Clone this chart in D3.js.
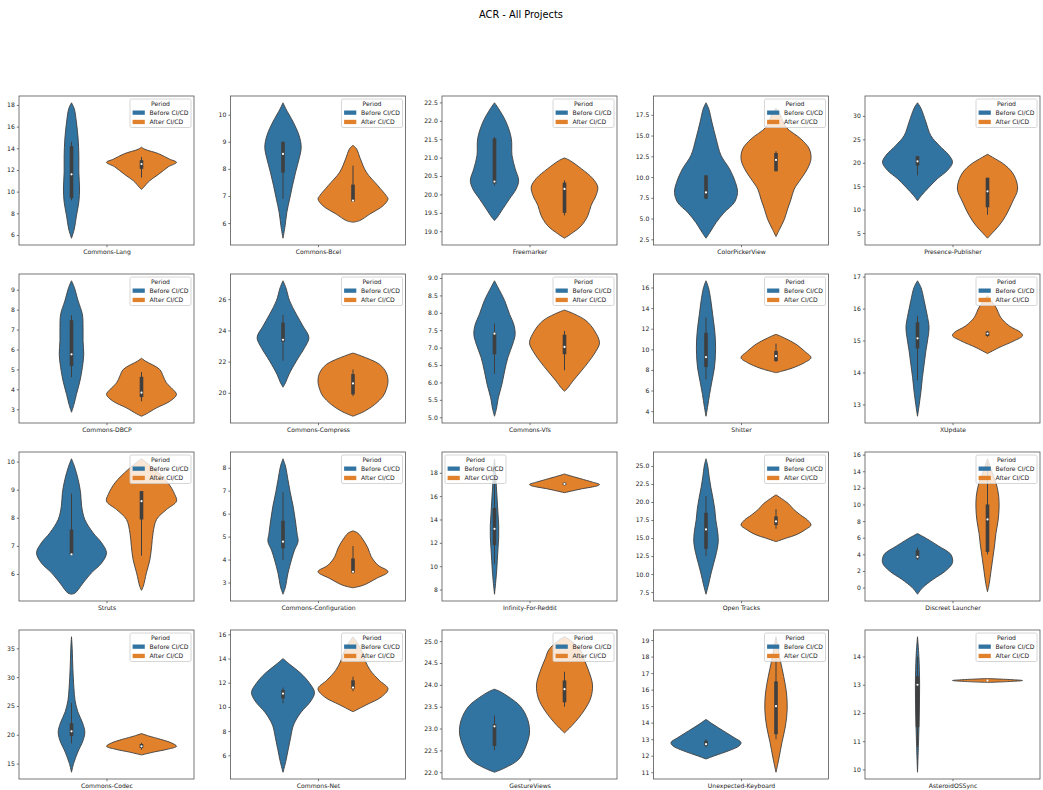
<!DOCTYPE html>
<html lang="en">
<head>
<meta charset="UTF-8">
<title>ACR - All Projects</title>
<script src="https://d3js.org/d3.v7.min.js"></script>
<style>
  body { margin: 0; background: #fff; font-family: "DejaVu Sans", sans-serif; }
  svg { display: block; }
</style>
</head>
<body>
<div id="chart"></div>
<script>
// one entry per project, in reading order (4 rows x 5 columns)
const projects = [
  "Commons-Lang", "Commons-Bcel", "Freemarker", "ColorPickerView", "Presence-Publisher",
  "Commons-DBCP", "Commons-Compress", "Commons-Vfs", "Shitter", "XUpdate",
  "Struts", "Commons-Configuration", "Infinity-For-Reddit", "Open Tracks", "Discreet Launcher",
  "Commons-Codec", "Commons-Net", "GestureViews", "Unexpected-Keyboard", "AsteroidOSSync"
];

const periods = ["Before CI/CD", "After CI/CD"];

const yTicks = [
  [6, 8, 10, 12, 14, 16, 18], [6, 7, 8, 9, 10], [19, 19.5, 20, 20.5, 21, 21.5, 22, 22.5],
  [2.5, 5, 7.5, 10, 12.5, 15, 17.5], [5, 10, 15, 20, 25, 30],
  [3, 4, 5, 6, 7, 8, 9], [20, 22, 24, 26], [5, 5.5, 6, 6.5, 7, 7.5, 8, 8.5, 9],
  [4, 6, 8, 10, 12, 14, 16], [13, 14, 15, 16, 17],
  [6, 7, 8, 9, 10], [3, 4, 5, 6, 7, 8], [8, 10, 12, 14, 16, 18],
  [7.5, 10, 12.5, 15, 17.5, 20, 22.5, 25], [0, 2, 4, 6, 8, 10, 12, 14, 16],
  [15, 20, 25, 30, 35], [6, 8, 10, 12, 14, 16], [22, 22.5, 23, 23.5, 24, 24.5, 25],
  [11, 12, 13, 14, 15, 16, 17, 18, 19], [10, 11, 12, 13, 14]
];

// violin outlines: [value, relative half-width]
const beforeShape = [
  [[5.7,0],[6.55,0.08],[7.75,0.14],[9.04,0.21],[10.24,0.23],[11.81,0.21],[13.32,0.21],[14.86,0.19],[16.43,0.14],[17.63,0.08],[18.2,0]],
  [[5.44,0],[5.9,0.06],[6.4,0.11],[6.89,0.19],[7.38,0.27],[7.88,0.36],[8.37,0.46],[8.8,0.52],[9.23,0.46],[9.73,0.29],[10.22,0.08],[10.44,0]],
  [[19.29,0],[19.38,0.08],[19.61,0.24],[19.88,0.43],[20.15,0.62],[20.38,0.69],[20.7,0.59],[21.06,0.5],[21.52,0.48],[21.97,0.33],[22.34,0.11],[22.49,0]],
  [[2.63,0],[3.32,0.11],[4.52,0.29],[5.73,0.52],[6.94,0.81],[8.15,0.9],[9.36,0.84],[11.0,0.67],[12.6,0.43],[14.6,0.29],[16.6,0.17],[18.2,0.08],[18.95,0]],
  [[11.9,0],[13.0,0.11],[14.8,0.33],[16.6,0.57],[18.4,0.86],[20.1,1.0],[21.6,0.9],[23.7,0.62],[25.8,0.38],[28.7,0.24],[31.6,0.1],[32.8,0]],
  [[2.85,0],[3.24,0.07],[3.74,0.14],[4.41,0.24],[5.09,0.31],[5.76,0.35],[6.43,0.33],[7.1,0.33],[7.77,0.31],[8.44,0.19],[9.12,0.08],[9.45,0]],
  [[20.36,0],[20.64,0.07],[21.18,0.17],[22.03,0.38],[22.9,0.62],[23.54,0.74],[24.28,0.57],[25.04,0.38],[25.89,0.19],[26.75,0.08],[27.18,0]],
  [[5.03,0],[5.22,0.05],[5.56,0.11],[5.94,0.21],[6.33,0.29],[6.71,0.38],[7.1,0.52],[7.38,0.59],[7.67,0.55],[7.96,0.43],[8.35,0.29],[8.73,0.1],[8.92,0]],
  [[3.51,0],[4.5,0.05],[5.6,0.1],[6.9,0.17],[8.2,0.24],[9.5,0.27],[10.8,0.27],[12.1,0.24],[13.4,0.19],[14.7,0.14],[16.0,0.07],[16.65,0]],
  [[12.63,0],[13.0,0.05],[13.42,0.1],[13.84,0.14],[14.26,0.19],[14.68,0.24],[15.09,0.3],[15.41,0.33],[15.83,0.27],[16.25,0.19],[16.66,0.1],[16.87,0]],
  [[5.28,0],[5.32,0.1],[5.44,0.19],[5.68,0.33],[6.04,0.57],[6.39,0.86],[6.75,1.0],[7.11,0.86],[7.46,0.62],[7.94,0.38],[8.41,0.29],[8.89,0.26],[9.36,0.19],[9.84,0.08],[10.1,0]],
  [[2.49,0],[2.81,0.07],[3.39,0.14],[3.98,0.24],[4.42,0.33],[4.78,0.43],[5.15,0.4],[5.73,0.35],[6.32,0.29],[6.9,0.21],[7.49,0.14],[8.07,0.07],[8.39,0]],
  [[7.6,0],[8.5,0.03],[9.5,0.06],[10.5,0.08],[11.5,0.1],[12.5,0.12],[13.5,0.12],[14.5,0.1],[15.5,0.08],[16.5,0.06],[17.5,0.04],[18.5,0.02],[19.2,0]],
  [[7.2,0],[8.5,0.07],[10,0.14],[11.5,0.22],[13,0.3],[14.5,0.35],[16,0.33],[17.5,0.28],[19,0.25],[20.5,0.2],[22,0.14],[23.5,0.09],[25,0.05],[26,0]],
  [[-0.8,0],[0,0.15],[1,0.45],[2,0.8],[3,1.0],[4,0.95],[5,0.6],[5.8,0.3],[6.5,0]],
  [[13.5,0],[15,0.06],[17,0.18],[19,0.33],[20.5,0.38],[22,0.32],[24,0.18],[26,0.1],[28,0.07],[30,0.05],[33,0.03],[35,0.02],[37,0]],
  [[4.6,0],[5.5,0.08],[6.5,0.15],[7.5,0.22],[8.5,0.3],[9.5,0.5],[10.5,0.8],[11.2,0.9],[12,0.75],[12.8,0.5],[13.5,0.2],[14,0]],
  [[22.0,0],[22.1,0.3],[22.3,0.7],[22.6,0.9],[22.9,1.0],[23.2,0.95],[23.5,0.75],[23.7,0.45],[23.85,0.15],[23.9,0]],
  [[11.8,0],[12.0,0.25],[12.3,0.65],[12.6,0.95],[12.8,1.0],[13.1,0.8],[13.5,0.5],[13.9,0.2],[14.2,0]],
  [[9.9,0],[11,0.03],[12,0.05],[13,0.06],[14,0.04],[14.7,0]]
];

const afterShape = [
  [[10.2,0],[10.4,0.06],[11.0,0.23],[11.6,0.49],[12.3,0.77],[12.7,1.0],[13.0,0.8],[13.5,0.49],[13.9,0.1],[14.1,0]],
  [[6.03,0],[6.09,0.19],[6.33,0.48],[6.64,0.86],[6.89,1.0],[7.01,0.95],[7.38,0.71],[7.88,0.38],[8.37,0.21],[8.74,0.1],[8.87,0]],
  [[18.81,0],[18.93,0.19],[19.15,0.48],[19.43,0.67],[19.7,0.76],[19.97,0.9],[20.2,0.95],[20.43,0.81],[20.7,0.48],[20.93,0.14],[20.99,0]],
  [[2.83,0],[3.7,0.1],[4.92,0.24],[6.13,0.33],[7.34,0.43],[8.55,0.52],[9.76,0.71],[11.0,0.9],[12.2,1.0],[13.4,0.95],[14.6,0.71],[16.0,0.29],[17.5,0.12],[18.3,0]],
  [[3.9,0],[4.8,0.11],[6.6,0.33],[8.7,0.52],[11.6,0.71],[14.4,0.86],[17.3,0.76],[19.4,0.52],[21.2,0.14],[21.8,0]],
  [[2.65,0],[2.77,0.14],[3.07,0.43],[3.4,0.81],[3.74,1.0],[3.99,0.9],[4.33,0.71],[4.66,0.62],[5.0,0.52],[5.42,0.11],[5.56,0]],
  [[18.5,0],[18.82,0.33],[19.25,0.62],[19.79,0.86],[20.21,0.95],[20.75,1.0],[21.29,0.95],[21.82,0.76],[22.36,0.24],[22.55,0]],
  [[5.75,0],[5.85,0.1],[6.04,0.24],[6.33,0.48],[6.62,0.71],[6.9,0.9],[7.14,1.0],[7.48,0.86],[7.77,0.62],[7.96,0.29],[8.08,0]],
  [[7.73,0],[7.9,0.19],[8.2,0.48],[8.7,0.81],[9.19,1.0],[9.84,0.81],[10.5,0.57],[11.1,0.24],[11.46,0]],
  [[14.59,0],[14.65,0.1],[14.78,0.33],[14.99,0.76],[15.15,1.0],[15.25,0.95],[15.46,0.62],[15.72,0.38],[16.04,0.24],[16.4,0]],
  [[5.42,0],[5.56,0.05],[6.04,0.14],[6.51,0.24],[6.99,0.29],[7.46,0.33],[7.94,0.43],[8.29,0.71],[8.59,1.0],[8.83,0.95],[9.24,0.76],[9.72,0.38],[10.1,0]],
  [[2.77,0],[2.88,0.29],[3.18,0.67],[3.47,1.0],[3.76,0.71],[4.13,0.52],[4.49,0.43],[4.86,0.29],[5.15,0.14],[5.25,0]],
  [[16.3,0],[16.6,0.45],[16.9,0.95],[17.0,1.0],[17.2,0.8],[17.5,0.45],[17.8,0.1],[17.9,0]],
  [[14.5,0],[15,0.3],[15.5,0.6],[16.2,0.85],[16.8,1.0],[17.5,0.9],[18.2,0.7],[19,0.5],[19.8,0.35],[20.5,0.15],[21,0]],
  [[-0.5,0],[0.5,0.05],[2,0.1],[3.5,0.15],[5,0.2],[6.5,0.24],[8,0.3],[9.5,0.33],[11,0.32],[12.5,0.25],[14,0.12],[15.5,0]],
  [[16.5,0],[17,0.35],[17.5,0.75],[18,1.0],[18.6,0.85],[19.2,0.55],[19.8,0.2],[20.2,0]],
  [[9.6,0],[10.2,0.4],[10.8,0.8],[11.5,1.0],[12.2,0.75],[13,0.5],[13.8,0.35],[14.6,0.25],[15.3,0.12],[15.8,0]],
  [[22.9,0],[23.1,0.25],[23.4,0.55],[23.7,0.75],[24.0,0.8],[24.3,0.7],[24.6,0.55],[24.8,0.45],[25.0,0.2],[25.1,0]],
  [[11.0,0],[11.8,0.08],[12.8,0.17],[13.8,0.27],[14.8,0.32],[15.8,0.3],[16.8,0.22],[17.8,0.12],[18.6,0.05],[19.2,0]],
  [[13.08,0],[13.12,0.7],[13.15,1.0],[13.18,0.7],[13.22,0]]
];

// inner box: [whisker low, q1, median, q3, whisker high]
const beforeBox = [
  [9.2,9.4,11.6,14.2,14.6], [6.89,7.86,8.55,9.0,9.0], [20.24,20.3,20.35,21.52,21.56],
  [7.34,7.4,8.15,10.2,10.24], [17.3,19.4,20.3,21.4,21.4],
  [4.61,5.17,5.76,7.47,7.72], [22.06,23.27,23.4,24.5,25.0], [6.25,6.81,7.4,7.43,7.69],
  [7.08,8.28,9.25,11.6,13.08], [13.75,14.75,15.07,15.57,15.77],
  [6.65,6.69,6.7,7.58,8.86], [3.98,4.49,4.78,5.69,6.93], [10.2,11.8,13.2,15.0,17.5],
  [12.5,13.5,16.2,18.5,20.8], [3.3,3.5,3.7,4.5,4.8],
  [18.5,19.8,20.6,22.0,25.5], [10.3,10.7,11.1,11.4,11.6], [22.5,22.6,23.05,23.1,23.3],
  [12.5,12.6,12.7,12.9,13.0], [10.8,11.5,13.0,13.3,14.0]
];

const afterBox = [
  [11.3,12.1,12.55,12.9,13.2], [6.79,6.8,6.83,7.42,8.12], [19.43,19.5,20.15,20.32,20.38],
  [10.7,10.7,12.06,12.9,13.1], [8.9,10.5,13.9,16.8,16.8],
  [3.4,3.61,3.83,4.63,4.87], [19.79,19.9,20.6,21.2,21.49], [6.35,6.81,7.02,7.37,7.48],
  [8.8,8.86,9.35,9.84,10.55], [15.12,15.14,15.22,15.28,15.3],
  [6.65,7.94,8.59,8.95,8.95], [3.39,3.42,3.47,4.05,4.59], [16.9,16.95,17.05,17.15,17.2],
  [16.3,16.8,17.3,18.0,19.0], [4.0,4.3,8.2,10.0,15.0],
  [17.4,17.7,18.0,18.4,18.6], [11.3,11.5,11.6,12.2,12.5], [23.5,23.6,23.9,24.1,24.3],
  [13.0,13.3,15.0,16.5,17.8], [13.13,13.14,13.15,13.16,13.17]
];

// where matplotlib's "best" put each legend
const legendLoc = projects.map((p, i) => i === 12 ? "left" : "right");

const W = 1043, H = 790;
const axW = 175, axH = 149;
const colLeft = c => 19 + c * 211.5;
const rowTop = r => 96 + r * 178;
const colors = ["#3274a1", "#e1812c"];
const edge = "#3f3f3f";
const font = "DejaVu Sans, sans-serif";
const fs = 6.1;

const svg = d3.select("#chart").append("svg")
  .attr("width", W).attr("height", H)
  .style("background", "#fff");

svg.append("text")
  .attr("x", 521).attr("y", 18)
  .attr("text-anchor", "middle")
  .attr("font-family", font).attr("font-size", 9.8)
  .text("ACR - All Projects");

projects.forEach((name, i) => {
  const r = Math.floor(i / 5), c = i % 5;
  const g = svg.append("g").attr("transform", `translate(${colLeft(c)},${rowTop(r)})`);

  // autoscale like matplotlib: data extent plus 5% margin
  const vals = beforeShape[i].concat(afterShape[i]).map(d => d[0]);
  const [lo, hi] = d3.extent(vals);
  const pad = (hi - lo) * 0.05;
  const y = d3.scaleLinear().domain([lo - pad, hi + pad]).range([axH, 0]);
  const x = d3.scaleLinear().domain([-0.5, 0.5]).range([0, axW]);
  const halfW = x(0.2) - x(0);

  const violins = [
    { shape: beforeShape[i], box: beforeBox[i], pos: -0.2, color: colors[0] },
    { shape: afterShape[i], box: afterBox[i], pos: 0.2, color: colors[1] }
  ];

  violins.forEach(v => {
    const cx = x(v.pos);
    const area = d3.area()
      .curve(d3.curveCatmullRom)
      .y(d => y(d[0]))
      .x0(d => cx - d[1] * halfW)
      .x1(d => cx + d[1] * halfW);
    g.append("path")
      .attr("d", area(v.shape))
      .attr("fill", v.color)
      .attr("stroke", edge)
      .attr("stroke-width", 0.9);
    g.append("line")
      .attr("x1", cx).attr("x2", cx)
      .attr("y1", y(v.box[0])).attr("y2", y(v.box[4]))
      .attr("stroke", edge).attr("stroke-width", 1);
    g.append("line")
      .attr("x1", cx).attr("x2", cx)
      .attr("y1", y(v.box[1])).attr("y2", y(v.box[3]))
      .attr("stroke", edge).attr("stroke-width", 3.6);
    g.append("circle")
      .attr("cx", cx).attr("cy", y(v.box[2]))
      .attr("r", 1.1).attr("fill", "#fff");
  });

  // spines
  g.append("rect")
    .attr("width", axW).attr("height", axH)
    .attr("fill", "none").attr("stroke", "#555").attr("stroke-width", 0.8);

  const decimals = yTicks[i].some(t => !Number.isInteger(t)) ? ".1f" : "d";
  const yAxis = g.append("g")
    .call(d3.axisLeft(y).tickValues(yTicks[i]).tickSize(2.2).tickPadding(2).tickFormat(d3.format(decimals)));
  const xAxis = g.append("g")
    .attr("transform", `translate(0,${axH})`)
    .call(d3.axisBottom(x).tickValues([0]).tickSize(2.2).tickPadding(2).tickFormat(() => name));
  [yAxis, xAxis].forEach(a => {
    a.attr("font-family", font).attr("font-size", fs);
    a.select(".domain").remove();
    a.selectAll(".tick line").attr("stroke", "#555").attr("stroke-width", 0.8);
    a.selectAll(".tick text").attr("fill", "#222");
  });

  // legend
  const lw = 61, lh = 28.5;
  const lx = legendLoc[i] === "right" ? axW - 3 - lw : 3, ly = 3;
  const leg = g.append("g").attr("transform", `translate(${lx},${ly})`);
  leg.append("rect")
    .attr("width", lw).attr("height", lh).attr("rx", 1.5)
    .attr("fill", "#fff").attr("fill-opacity", 0.8)
    .attr("stroke", "#ccc").attr("stroke-width", 0.8);
  leg.append("text")
    .attr("x", lw / 2).attr("y", 6.6)
    .attr("text-anchor", "middle")
    .attr("font-family", font).attr("font-size", fs).attr("fill", "#222")
    .text("Period");
  periods.forEach((p, k) => {
    const cy = 13.7 + k * 9.3;
    leg.append("rect")
      .attr("x", 2.6).attr("y", cy - 2.2)
      .attr("width", 12.2).attr("height", 4.3)
      .attr("fill", colors[k]);
    leg.append("text")
      .attr("x", 19.6).attr("y", cy + 2.2)
      .attr("font-family", font).attr("font-size", fs).attr("fill", "#222")
      .text(p);
  });
});
</script>
</body>
</html>
